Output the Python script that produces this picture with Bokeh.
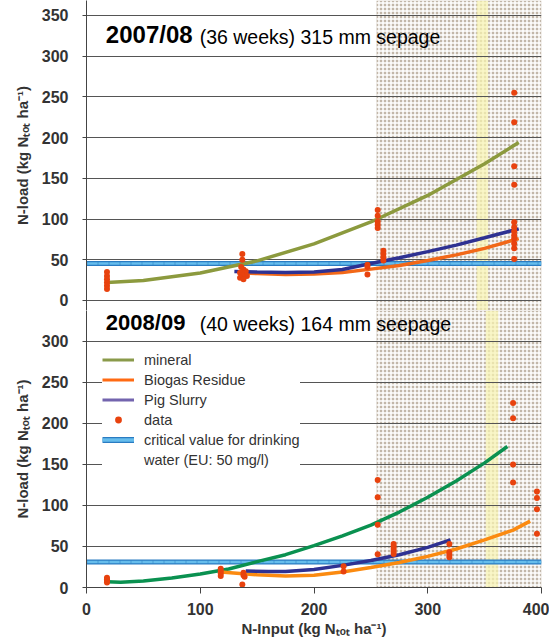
from bokeh.plotting import figure
from bokeh.layouts import column
from bokeh.models import Range1d, SingleIntervalTicker, BoxAnnotation, Legend, LegendItem, Label
from bokeh.embed import file_html
from bokeh.resources import INLINE

NAN = float("nan")

# ---------------- data ----------------
# 2007/08 fitted curves
top_min_x = [18, 50, 100, 150, 200, 250, 300, 350, 380]
top_min_y = [22, 24.6, 33.7, 48.6, 69.5, 96.4, 129, 168, 194]
top_bio_x = [135, 150, 175, 200, 225, 250, 275, 300, 325, 350, 380]
top_bio_y = [34, 33, 32, 32.5, 34.5, 38.5, 43, 49, 56, 64, 76]
top_pig_x = [130, 150, 175, 200, 225, 250, 275, 300, 325, 350, 380]
top_pig_y = [35.5, 35, 34.5, 35, 38, 45.5, 52.5, 60, 68, 77, 88]
# 2007/08 measured data
top_data_x = [18, 18, 18, 18, 18, 18,
              137, 137, 136, 138, 140, 135, 139, 137, 141, 135, 138,
              247, 247, 247,
              256, 256, 256, 256, 256,
              261, 261, 261, 261,
              376, 376, 376, 376, 376, 376, 376, 376, 376, 376, 376, 376]
top_data_y = [35, 30, 26, 22, 18, 14,
              57, 50, 41, 38, 36, 34, 33, 31, 30, 28, 26,
              44, 41, 32,
              111, 104, 97, 93, 89,
              61, 57, 53, 49,
              255, 219, 165, 142, 96, 90, 85, 80, 76, 70, 64, 51]
top_critical = 45.5

# 2008/09 fitted curves
bot_min_x = [18, 30, 50, 75, 100, 125, 150, 175, 200, 225, 250, 275, 300, 325, 350, 370]
bot_min_y = [7, 6.3, 8, 11.5, 16.5, 22.5, 31.5, 40, 51, 63, 76, 92, 110, 130, 152, 172]
bot_bio_x = [118, 135, 150, 175, 200, 225, 250, 275, 300, 325, 350, 375, 390]
bot_bio_y = [19, 17, 15.5, 14, 15, 19, 24.5, 30.5, 38, 47, 58, 70, 81]
bot_pig_x = [140, 160, 175, 200, 225, 250, 275, 300, 320]
bot_pig_y = [20, 19.5, 19.5, 22, 27, 33, 40, 49, 58]
# 2008/09 measured data
bot_data_x = [18, 18, 18, 18,
              118, 118, 118, 118,
              138, 138, 139, 137,
              226, 226,
              256, 256, 256, 256,
              270, 270, 270, 270, 270,
              319, 319, 319, 319,
              375, 375, 375, 375,
              396, 396, 396, 396]
bot_data_y = [12, 10, 8, 6,
              23, 20, 17, 14,
              18, 15, 13, 3.7,
              26, 19.5,
              131, 110, 76.5, 40.7,
              53, 50, 47, 44, 41,
              53, 43, 40, 37,
              225, 206.5, 150, 128,
              117, 109, 95.5, 65.7]
bot_critical = 31

crit_x = [0, 400]
x_tick_step = 100
y_tick_step = 50

legend_labels = ["mineral", "Biogas Residue", "Pig Slurry", "data",
                 "critical value for drinking", "water (EU: 50 mg/l)"]

# ---------------- styles ----------------
FONT = "Liberation Sans"
OLIVE = "#8c9a3e"
GREEN = "#0a9150"
ORANGE_TOP = "#f26818"
ORANGE_BOT = "#fb8a10"
NAVY = "#2e3192"
DOT = "#e8420e"
CRIT_DARK = "#2a7cc2"
CRIT_LIGHT = "#66bdec"
GRID = "#555555"
TXT = "#333333"
PHOTO_FILL = "#c2b7a9"
YELLOW = "#f8f3b0"


def style(p, ylab):
    p.outline_line_color = None
    p.background_fill_color = "white"
    p.border_fill_color = "white"
    for g in p.grid:
        if g.dimension == 0:
            g.visible = False
        else:
            g.grid_line_color = GRID
            g.grid_line_width = 1
    for ax in p.yaxis:
        ax.ticker = SingleIntervalTicker(interval=y_tick_step, num_minor_ticks=0)
        ax.axis_label = ylab
        ax.axis_label_text_font = FONT
        ax.axis_label_text_font_style = "bold"
        ax.axis_label_text_font_size = "15px"
        ax.axis_label_text_color = TXT
        ax.axis_label_standoff = 8
        ax.major_label_text_font = FONT
        ax.major_label_text_font_style = "bold"
        ax.major_label_text_font_size = "16px"
        ax.major_label_text_color = TXT
        ax.major_label_standoff = 14
        ax.major_tick_out = 4
        ax.major_tick_in = 0
        ax.minor_tick_out = 0
        ax.axis_line_color = "#444444"
        ax.major_tick_line_color = "#444444"
    for g in p.ygrid:
        g.ticker = SingleIntervalTicker(interval=y_tick_step, num_minor_ticks=0)


def photo(p, y0, y1):
    p.add_layout(BoxAnnotation(left=255, fill_color=PHOTO_FILL, fill_alpha=1.0,
                               hatch_pattern="+", hatch_color="white", hatch_alpha=1.0,
                               hatch_scale=4, hatch_weight=1.5, line_color=None, level="image"))
    p.add_layout(BoxAnnotation(left=y0, right=y1, fill_color=YELLOW, fill_alpha=0.7,
                               line_color=None, level="image"))


def critical(p, yv):
    p.line(crit_x, [yv, yv], line_color=CRIT_DARK, line_width=5)
    p.line(crit_x, [yv, yv], line_color=CRIT_LIGHT, line_width=2.5)
    p.line(crit_x, [yv, yv], line_color=CRIT_DARK, line_width=3, line_dash="1 10", line_alpha=0.5)


YLAB = "N-load (kg N\u209c\u2092\u209c ha\u207b\u00b9)"
XLAB = "N-Input (kg N\u209c\u2092\u209c ha\u207b\u00b9)"

# ---------------- top panel ----------------
p1 = figure(width=549, height=310, x_range=Range1d(0, 400), y_range=Range1d(-12.3, 368.4),
            output_backend="svg", toolbar_location=None, x_axis_location=None,
            min_border_left=86, min_border_right=8, min_border_top=0, min_border_bottom=0)
style(p1, YLAB)
photo(p1, 343, 353)
critical(p1, top_critical)
p1.line(top_min_x, top_min_y, line_color=OLIVE, line_width=3.5)
p1.line(top_bio_x, top_bio_y, line_color=ORANGE_TOP, line_width=3.5)
p1.line(top_pig_x, top_pig_y, line_color=NAVY, line_width=3.5)
p1.scatter(top_data_x, top_data_y, size=6, fill_color=DOT, line_color=None)
p1.add_layout(Label(x=17, y=310, text="2007/08", text_font=FONT, text_font_style="bold",
                    text_font_size="24px", text_color="black"))
p1.add_layout(Label(x=99.5, y=310, text="(36 weeks) 315 mm sepage", text_font=FONT,
                    text_font_size="19.5px", text_color="black"))

# ---------------- bottom panel ----------------
p2 = figure(width=549, height=329, x_range=p1.x_range, y_range=Range1d(0, 337.8),
            output_backend="svg", toolbar_location=None,
            min_border_left=86, min_border_right=8, min_border_top=0, min_border_bottom=52)
style(p2, YLAB)
photo(p2, 351, 362)
xa = p2.xaxis[0]
xa.ticker = SingleIntervalTicker(interval=x_tick_step, num_minor_ticks=0)
xa.axis_label = XLAB
xa.axis_label_text_font = FONT
xa.axis_label_text_font_style = "bold"
xa.axis_label_text_font_size = "15px"
xa.axis_label_text_color = TXT
xa.axis_label_standoff = 2
xa.major_label_text_font = FONT
xa.major_label_text_font_style = "bold"
xa.major_label_text_font_size = "16px"
xa.major_label_text_color = TXT
xa.major_label_standoff = 9
xa.major_tick_out = 6
xa.major_tick_in = 0
xa.minor_tick_out = 0
xa.axis_line_color = "#444444"
xa.major_tick_line_color = "#444444"

critical(p2, bot_critical)
p2.line(bot_min_x, bot_min_y, line_color=GREEN, line_width=3.5)
p2.line(bot_bio_x, bot_bio_y, line_color=ORANGE_BOT, line_width=3.5)
p2.line(bot_pig_x, bot_pig_y, line_color=NAVY, line_width=3.5)
p2.scatter(bot_data_x, bot_data_y, size=6, fill_color=DOT, line_color=None)

# legend proxies (renderers with no visible points)
nan2 = [NAN, NAN]
lg_min = p2.line(nan2, nan2, line_color="#8a9a4a", line_width=3)
lg_bio = p2.line(nan2, nan2, line_color="#ff6a13", line_width=3)
lg_pig = p2.line(nan2, nan2, line_color="#7364ae", line_width=3)
lg_dot = p2.scatter(nan2, nan2, size=6, fill_color=DOT, line_color=None)
lg_c1 = p2.line(nan2, nan2, line_color=CRIT_DARK, line_width=6)
lg_c2 = p2.line(nan2, nan2, line_color=CRIT_LIGHT, line_width=3.5)
lg_blank = p2.line(nan2, nan2, line_alpha=0)
legend = Legend(items=[LegendItem(label=legend_labels[0], renderers=[lg_min]),
                       LegendItem(label=legend_labels[1], renderers=[lg_bio]),
                       LegendItem(label=legend_labels[2], renderers=[lg_pig]),
                       LegendItem(label=legend_labels[3], renderers=[lg_dot]),
                       LegendItem(label=legend_labels[4], renderers=[lg_c1, lg_c2]),
                       LegendItem(label=legend_labels[5], renderers=[lg_blank])],
                location=(16, 119), margin=0, padding=16, spacing=3,
                glyph_width=32, glyph_height=17, label_height=17, label_standoff=10,
                label_text_font=FONT, label_text_font_size="14.5px", label_text_color=TXT,
                background_fill_color="white", background_fill_alpha=1.0,
                border_line_color=None)
p2.add_layout(legend)

# title drawn after the legend so it stays on top of the legend box
p2.add_layout(Label(x=17, y=308.5, text="2008/09", text_font=FONT, text_font_style="bold",
                    text_font_size="22px", text_color="black"))
p2.add_layout(Label(x=99.5, y=308.5, text="(40 weeks) 164 mm seepage", text_font=FONT,
                    text_font_size="19.5px", text_color="black"))

layout = column(p1, p2, spacing=0)
open("out.html", "w").write(file_html(layout, INLINE))
